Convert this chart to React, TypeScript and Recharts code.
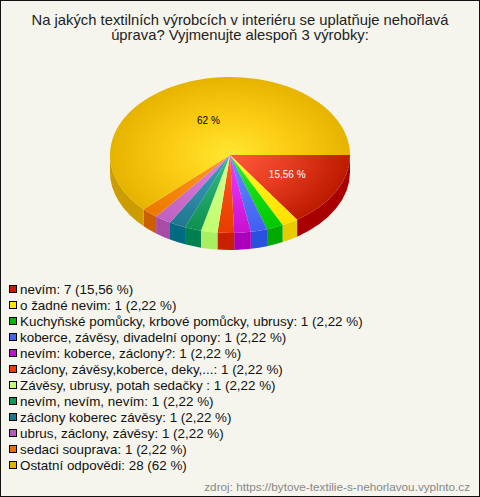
import { PieChart, Pie, Cell, Legend } from 'recharts';

const labels = [
  'nevím', 'o žadné nevim', 'Kuchyňské pomůcky, krbové pomůcky, ubrusy', 'koberce, závěsy, divadelní opony',
  'nevím: koberce, záclony?', 'záclony, závěsy,koberce, deky,...', 'Závěsy, ubrusy, potah sedačky ',
  'nevím, nevím, nevím', 'záclony koberec závěsy', 'ubrus, záclony, závěsy', 'sedaci souprava', 'Ostatní odpovědi',
];
const counts = [7, 1, 1, 1, 1, 1, 1, 1, 1, 1, 1, 28];
const percents = ['15,56', '2,22', '2,22', '2,22', '2,22', '2,22', '2,22', '2,22', '2,22', '2,22', '2,22', '62'];

const swatchColors = ['#c81e00', '#ffe600', '#00b800', '#4466ee', '#c010d0', '#e84000', '#c0ff70', '#109858', '#1a7890', '#b858b8', '#e87000', '#e6b000'];
const innerColors = ['#ff5a3c', '#ffff30', '#30f030', '#6090ff', '#f040ff', '#ff6020', '#d8ff90', '#30c080', '#40a0c0', '#e080e0', '#ff9c20', '#ffe830'];
const midColors = ['#e63c20', '#ffee10', '#14dc14', '#5078f8', '#dc28e8', '#f44c10', '#ccff80', '#20a868', '#308ca8', '#d070d0', '#f68a10', '#fccb14'];
const outerColors = ['#bc1a00', '#ffe000', '#00c800', '#4060f0', '#c810d0', '#e83c00', '#c0ff70', '#109050', '#207890', '#c060c0', '#ee7800', '#e6b400'];
const wallColors = ['#a80000', '#e8cc00', '#00aa00', '#2a50e0', '#aa00bb', '#c82000', '#a8f060', '#008050', '#006a80', '#a84ca8', '#cc6000', '#cc9c00'];

const tableData = labels.map((name, i) => ({ name, value: counts[i], pct: percents[i] }));

const CX = 230;
const CY = 155;
const RX = 120;
const RY = 78;
const DEPTH = 17;
const rad = (a: number) => (a * Math.PI) / 180;
const px = (a: number, k = 1) => CX + RX * k * Math.cos(rad(a));
const py = (a: number, k = 1) => CY - RY * k * Math.sin(rad(a));

// recharts gives us the angles, we only squash the circle into an ellipse
const TopSlice = (props: any) => {
  const { startAngle, endAngle, index } = props;
  const large = Math.abs(endAngle - startAngle) > 180 ? 1 : 0;
  const d = `M${CX},${CY} L${px(startAngle)},${py(startAngle)} A${RX},${RY} 0 ${large} 1 ${px(endAngle)},${py(endAngle)} Z`;
  return <path d={d} fill={`url(#top${index})`} stroke="none" />;
};

const WallSlice = (props: any) => {
  const { startAngle, endAngle, index } = props;
  // only the front half of the rim is visible
  const a = Math.max(startAngle, -180);
  const b = Math.max(endAngle, -180);
  if (a <= b) return null;
  const d = `M${px(a)},${py(a)} A${RX},${RY} 0 0 1 ${px(b)},${py(b)} L${px(b)},${py(b) + DEPTH} A${RX},${RY} 0 0 0 ${px(a)},${py(a) + DEPTH} Z`;
  return <path d={d} fill={wallColors[index]} stroke="none" />;
};

const SliceLabel = (props: any) => {
  const { midAngle, index } = props;
  if (index !== 0 && index !== 11) return null;
  const k = index === 0 ? 0.54 : 0.48;
  return (
    <text x={px(midAngle, k)} y={py(midAngle, k)} textAnchor="middle" dominantBaseline="central"
      fontSize={10} fontFamily="Liberation Sans" fill={index === 0 ? '#ffffff' : '#000000'}>
      {tableData[index].pct} %
    </text>
  );
};

const LegendList = () => (
  <div style={{ fontFamily: 'Liberation Sans', fontSize: 13.4, color: '#111' }}>
    {tableData.map((d, i) => (
      <div key={d.name} style={{ display: 'flex', alignItems: 'center', height: 16, whiteSpace: 'pre' }}>
        <span style={{ width: 6, height: 6, background: swatchColors[i], border: '1px solid #000', marginRight: 3, flex: 'none' }} />
        {d.name}: {d.value} ({d.pct} %)
      </div>
    ))}
  </div>
);

export default function App() {
  return (
    <div style={{ position: 'absolute', left: 0, top: 0, width: 480, height: 497, boxSizing: 'border-box', background: '#f5f5ed', border: '1px solid #111', overflow: 'hidden' }}>
      <div style={{ position: 'absolute', left: 0, top: 12, width: 478, textAlign: 'center', fontFamily: 'Liberation Sans', fontSize: 14.8, lineHeight: '15px', color: '#222' }}>
        Na jakých textilních výrobcích v interiéru se uplatňuje nehořlavá<br />úprava? Vyjmenujte alespoň 3 výrobky:
      </div>
      <div style={{ position: 'absolute', left: -1, top: -1 }}>
        <PieChart width={480} height={497} margin={{ top: 0, right: 0, bottom: 0, left: 0 }}>
          <defs>
            {innerColors.map((c, i) => (
              <radialGradient key={i} id={`top${i}`} gradientUnits="userSpaceOnUse" cx={0} cy={0} r={1}
                gradientTransform={`translate(${CX} ${CY}) scale(${RX} ${RY})`}>
                <stop offset="0%" stopColor={c} />
                <stop offset="50%" stopColor={midColors[i]} />
                <stop offset="100%" stopColor={outerColors[i]} />
              </radialGradient>
            ))}
          </defs>
          <Pie data={tableData} dataKey="value" nameKey="name" cx={CX} cy={CY + DEPTH} outerRadius={RX} startAngle={0} endAngle={-360}
            stroke="none" isAnimationActive={false} shape={WallSlice} legendType="none">
            {tableData.map((d) => <Cell key={d.name} />)}
          </Pie>
          <Pie data={tableData} dataKey="value" nameKey="name" cx={CX} cy={CY} outerRadius={RX} startAngle={0} endAngle={-360}
            stroke="none" isAnimationActive={false} shape={TopSlice} label={SliceLabel} labelLine={false}>
            {tableData.map((d) => <Cell key={d.name} />)}
          </Pie>
          <Legend content={<LegendList />} layout="vertical" align="left" verticalAlign="top" wrapperStyle={{ left: 9, top: 281, width: 470 }} />
        </PieChart>
      </div>
      <div style={{ position: 'absolute', right: 9, bottom: 3, fontFamily: 'Liberation Sans', fontSize: 11.73, color: '#888' }}>
        zdroj: https://bytove-textilie-s-nehorlavou.vyplnto.cz
      </div>
    </div>
  );
}
